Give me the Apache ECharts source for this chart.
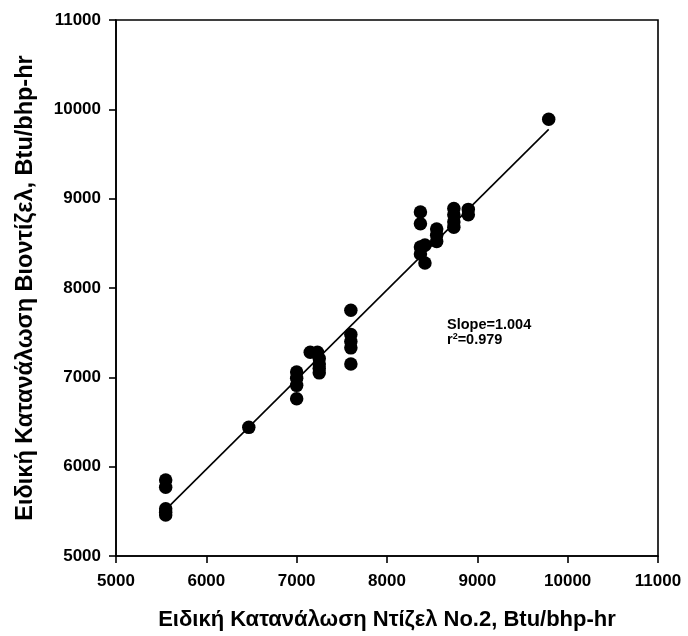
<!DOCTYPE html>
<html>
<head>
<meta charset="utf-8">
<script src="https://cdn.jsdelivr.net/npm/echarts@6/dist/echarts.min.js"></script>
<style>
  html, body { margin: 0; padding: 0; background: #fff; }
  #chart { width: 688px; height: 636px; }
</style>
</head>
<body>
<div id="chart"></div>
<script>
// Specific fuel consumption: petroleum diesel No.2 (x) vs biodiesel (y), Btu/bhp-hr
var dieselX = [
  5550, 5550, 5550, 5550, 5550,
  6470,
  7000, 7000, 7000, 7000,
  7150, 7230, 7250, 7250, 7250, 7250,
  7600, 7600, 7600, 7600, 7600,
  8370, 8370, 8370, 8370,
  8420, 8420,
  8550, 8550, 8550,
  8740, 8740, 8740, 8740,
  8900, 8900,
  9790
];
var biodieselY = [
  5850, 5770, 5530, 5490, 5460,
  6440,
  7060, 6990, 6910, 6760,
  7280, 7280, 7210, 7150, 7100, 7050,
  7750, 7480, 7400, 7330, 7150,
  8850, 8720, 8460, 8380,
  8480, 8280,
  8660, 8590, 8520,
  8890, 8820, 8740, 8680,
  8880, 8820,
  9890
];

// Linear fit reported on the chart
var fitSlope = 1.004;
var fitIntercept = -53;
var fitR2 = 0.979;
var fitRange = [5550, 9790];

var axisTicks = [5000, 6000, 7000, 8000, 9000, 10000, 11000];

var xTitle = 'Ειδική Κατανάλωση Ντίζελ No.2, Btu/bhp-hr';
var yTitle = 'Ειδική Κατανάλωση Βιοντίζελ, Btu/bhp-hr';

var points = dieselX.map(function (x, i) { return [x, biodieselY[i]]; });
var fitLine = fitRange.map(function (x) { return [x, fitSlope * x + fitIntercept]; });

var font = '"Liberation Sans", Arial, sans-serif';

var chart = echarts.init(document.getElementById('chart'), null, { renderer: 'canvas' });

function axisCommon(name, gap, labelMargin, nameSize) {
  return {
    type: 'value',
    min: axisTicks[0],
    max: axisTicks[axisTicks.length - 1],
    interval: 1000,
    name: name,
    nameLocation: 'middle',
    nameGap: gap,
    nameTextStyle: { fontFamily: font, fontWeight: 'bold', fontSize: nameSize, color: '#000' },
    axisLine: { show: true, onZero: false, lineStyle: { color: '#000', width: 1.6 } },
    axisTick: { show: true, inside: false, length: 7, lineStyle: { color: '#000', width: 1.6 } },
    axisLabel: {
      fontFamily: font, fontWeight: 'bold', fontSize: 17, color: '#000', margin: labelMargin,
      formatter: function (v) { return String(v); }
    },
    splitLine: { show: false }
  };
}

chart.setOption({
  backgroundColor: '#fff',
  animation: false,
  grid: {
    left: 116, right: 30, top: 20, bottom: 77,
    show: true, borderColor: '#000', borderWidth: 1.6, backgroundColor: 'transparent'
  },
  xAxis: axisCommon(xTitle, 53, 17, 22),
  yAxis: axisCommon(yTitle, 78, 15, 23.5),
  series: [
    {
      type: 'line',
      data: fitLine,
      symbol: 'none',
      lineStyle: { color: '#000', width: 1.6 },
      z: 2
    },
    {
      type: 'scatter',
      data: points,
      symbol: 'circle',
      symbolSize: 13.5,
      itemStyle: { color: '#000', opacity: 1 },
      z: 3
    }
  ],
  graphic: [
    {
      type: 'text',
      left: 447,
      top: 317,
      style: {
        text: 'Slope=' + fitSlope.toFixed(3) + '\n{i|r}{s|2}=' + fitR2.toFixed(3),
        fontFamily: font,
        fontWeight: 'bold',
        fontSize: 14.5,
        lineHeight: 15,
        fill: '#000',
        rich: {
          i: { fontFamily: font, fontWeight: 'bold', fontSize: 14.5, lineHeight: 15 },
          s: { fontFamily: font, fontWeight: 'bold', fontSize: 9, lineHeight: 15, verticalAlign: 'top', padding: [0, 0, 6, 0] }
        }
      }
    }
  ]
});
</script>
</body>
</html>
